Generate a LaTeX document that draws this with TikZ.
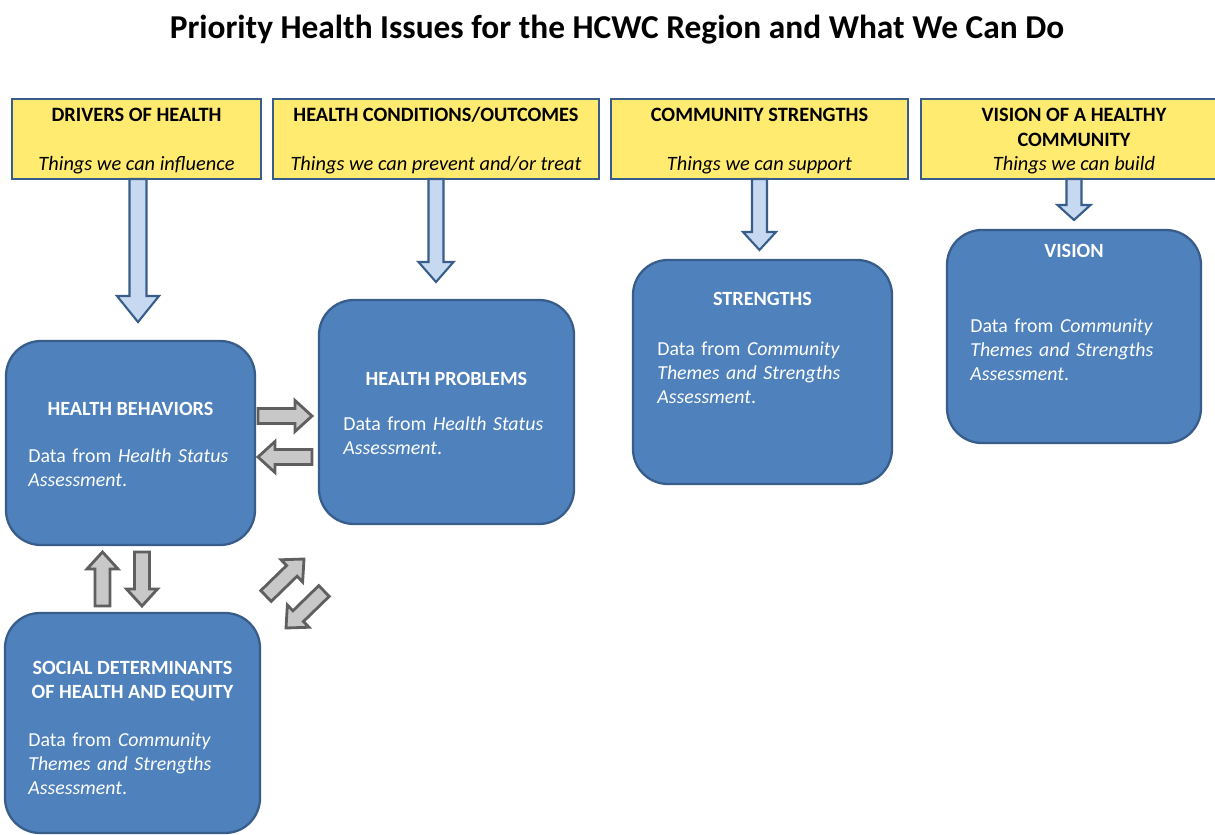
\documentclass[tikz,border=0pt]{standalone}
\usepackage{fontspec}
\setmainfont{Carlito}
\usepackage{xcolor}
\usetikzlibrary{calc}
\definecolor{boxblue}{RGB}{79,129,189}
\definecolor{boxedge}{RGB}{56,93,138}
\definecolor{headyellow}{RGB}{255,235,111}
\definecolor{arrowblue}{RGB}{198,217,241}
\definecolor{arrowgray}{RGB}{200,200,200}
\definecolor{arrowedge}{RGB}{95,95,95}
\newcommand{\pxu}{0.02cm}
\tikzset{barrow/.style n args={3}{to path={let \p1=($(\tikztotarget)!#3!(\tikztostart)$) in ($(\tikztostart)!#1!90:(\tikztotarget)$) -- ($(\p1)!#1!90:(\tikztotarget)$) -- ($(\p1)!#2!90:(\tikztotarget)$) -- (\tikztotarget) -- ($(\p1)!#2!-90:(\tikztotarget)$) -- ($(\p1)!#1!-90:(\tikztotarget)$) -- ($(\tikztostart)!#1!-90:(\tikztotarget)$) -- cycle}}}
\tikzset{yellowbox/.style={draw=boxedge, fill=headyellow, line width=1.2pt, outer sep=0pt, inner sep=0pt}}
\tikzset{bluebox/.style={draw=boxedge, fill=boxblue, line width=1.3pt, rounded corners=0.7cm, outer sep=0pt, inner sep=0pt}}
\tikzset{downarrow/.style={draw=boxedge, fill=arrowblue, line width=1.2pt}}
\tikzset{grayarrow/.style={draw=arrowedge, fill=arrowgray, line width=1.6pt, barrow={0.15cm}{0.31cm}{0.34cm}}}
\tikzset{headtext/.style={anchor=base, inner sep=0pt, font=\fontsize{11.6}{14.2}\selectfont\bfseries}}
\tikzset{subtext/.style={anchor=base, inner sep=0pt, font=\fontsize{11.6}{14.2}\selectfont\itshape}}
\tikzset{boxtitle/.style={anchor=base, inner sep=0pt, align=center, text=white, font=\fontsize{11.5}{13.6}\selectfont\bfseries}}
\tikzset{boxtext/.style={anchor=base west, inner sep=0pt, text width=5cm, align=left, text=white, font=\fontsize{11.3}{13.9}\selectfont}}

\begin{document}
\begin{tikzpicture}[x=\pxu, y=-\pxu]
\useasboundingbox (0,0) rectangle (1215,835);
\node[anchor=base, font=\fontsize{19}{22}\selectfont\bfseries] (title) at (617,38) {Priority Health Issues for the HCWC Region and What We Can Do};
% header boxes
\node[yellowbox, minimum width=249*\pxu, minimum height=80*\pxu] (drv) at (136.5,139) {};
\node[yellowbox, minimum width=326*\pxu, minimum height=80*\pxu] (hc) at (436,139) {};
\node[yellowbox, minimum width=297*\pxu, minimum height=80*\pxu] (cs) at (759.5,139) {};
\node[yellowbox, minimum width=306*\pxu, minimum height=80*\pxu] (vh) at (1074,139) {};
\node[headtext] (drv-t) at (136.5,121) {DRIVERS OF HEALTH};
\node[subtext] (drv-s) at (136.5,170) {Things we can influence};
\node[headtext] (hc-t) at (436,121) {HEALTH CONDITIONS/OUTCOMES};
\node[subtext] (hc-s) at (436,170) {Things we can prevent and/or treat};
\node[headtext] (cs-t) at (759.5,121) {COMMUNITY STRENGTHS};
\node[subtext] (cs-s) at (759.5,170) {Things we can support};
\node[headtext, align=center] (vh-t) at (1074,146) {VISION OF A HEALTHY\\COMMUNITY};
\node[subtext] (vh-s) at (1074,170) {Things we can build};
% data boxes
\node[bluebox, minimum width=249*\pxu, minimum height=204*\pxu] (hb) at (130.5,443) {};
\node[bluebox, minimum width=255*\pxu, minimum height=224*\pxu] (hp) at (446.5,412) {};
\node[bluebox, minimum width=259*\pxu, minimum height=224*\pxu] (st) at (762.5,372) {};
\node[bluebox, minimum width=254*\pxu, minimum height=213*\pxu] (vi) at (1074,336.5) {};
\node[bluebox, minimum width=255*\pxu, minimum height=220*\pxu] (sdoh) at (132.5,723) {};
\node[boxtitle] (hb-t) at (130.5,415) {HEALTH BEHAVIORS};
\node[boxtext] (hb-d) at (28,462) {Data from \textit{Health Status}\\\textit{Assessment}.};
\node[boxtitle] (hp-t) at (446.5,385) {HEALTH PROBLEMS};
\node[boxtext] (hp-d) at (343,430) {Data from \textit{Health Status}\\\textit{Assessment}.};
\node[boxtitle] (st-t) at (762.5,305) {STRENGTHS};
\node[boxtext] (st-d) at (657,355) {Data from \textit{Community}\\\textit{Themes and Strengths}\\\textit{Assessment}.};
\node[boxtitle] (vi-t) at (1074,257) {VISION};
\node[boxtext] (vi-d) at (970,332) {Data from \textit{Community}\\\textit{Themes and Strengths}\\\textit{Assessment}.};
\node[boxtitle] (sdoh-t) at (132.5,698) {SOCIAL DETERMINANTS\\OF HEALTH AND EQUITY};
\node[boxtext] (sdoh-d) at (28,746) {Data from \textit{Community}\\\textit{Themes and Strengths}\\\textit{Assessment}.};
% arrows from the headers
\draw[downarrow, barrow={0.17cm}{0.42cm}{0.52cm}] ($(drv.south)+(1.5,0)$) to ($(drv.south |- hb.north)+(1.5,-19)$);
\draw[downarrow, barrow={0.15cm}{0.35cm}{0.40cm}] (hc.south) to ($(hc.south |- hp.north)+(0,-18)$);
\draw[downarrow, barrow={0.15cm}{0.33cm}{0.36cm}] (cs.south) to ($(cs.south |- st.north)+(0,-10)$);
\draw[downarrow, barrow={0.15cm}{0.33cm}{0.30cm}] (vh.south) to ($(vh.south |- vi.north)+(0,-10)$);
% arrows between the boxes
\draw[grayarrow] ($(hb.east)+(3,-27)$) to ($(hp.west)+(-7,4)$);
\draw[grayarrow] ($(hp.west)+(-7,45)$) to ($(hb.east)+(3,14)$);
\draw[grayarrow] ($(sdoh.north)+(-30,-7)$) to ($(hb.south)+(-28,7)$);
\draw[grayarrow] ($(hb.south)+(11.5,7)$) to ($(sdoh.north)+(9.5,-7)$);
\draw[grayarrow] ($(sdoh.north east)+(6,-17)$) to ($(hp.south west)+(-15,35)$);
\draw[grayarrow] ($(hp.south west)+(5,67)$) to ($(sdoh.north east)+(26,15)$);
\end{tikzpicture}
\end{document}
